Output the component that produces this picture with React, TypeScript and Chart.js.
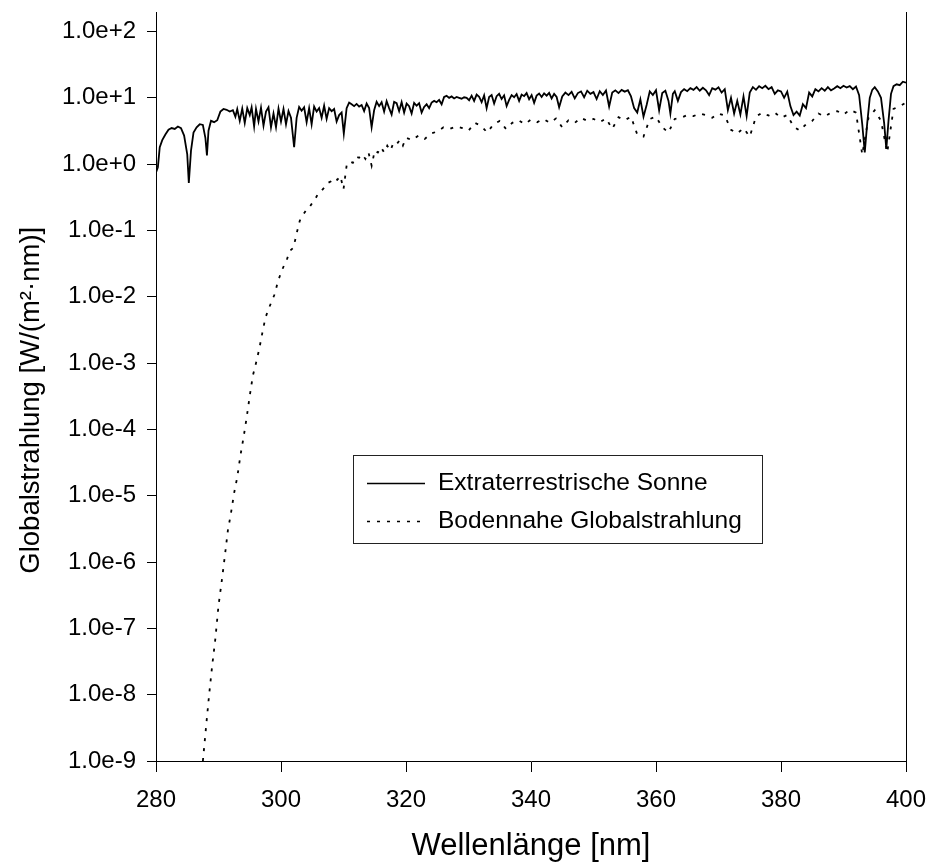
import React, { useEffect, useRef } from "react";
import { Chart, registerables } from "chart.js";

Chart.register(...registerables);

// Extraterrestrial solar spectrum (wavelength nm / irradiance)
const etrWavelength = [
  280.0, 280.3, 280.6, 281.0, 281.5, 282.0, 282.5, 283.0, 283.5, 284.0,
  284.5, 285.0, 285.25, 285.6, 286.0, 286.5, 287.0, 287.5, 287.9, 288.15,
  288.4, 288.8, 289.3, 289.8, 290.3, 290.8, 291.3, 291.8, 292.3, 292.7,
  293.0, 293.4, 293.8, 294.2, 294.6, 295.0, 295.3, 295.7, 296.0, 296.4,
  296.8, 297.2, 297.6, 298.0, 298.4, 298.8, 299.2, 299.6, 300.0, 300.4,
  300.8, 301.2, 301.6, 302.1, 302.5, 302.9, 303.3, 303.7, 304.1, 304.5,
  304.9, 305.3, 305.7, 306.1, 306.5, 306.9, 307.3, 307.7, 308.1, 308.5,
  308.9, 309.3, 309.7, 310.05, 310.5, 310.9, 311.3, 311.7, 312.1, 312.5,
  312.9, 313.3, 313.7, 314.1, 314.5, 314.9, 315.3, 315.7, 316.1, 316.5,
  316.9, 317.3, 317.7, 318.1, 318.5, 318.9, 319.3, 319.7, 320.1, 320.5,
  320.9, 321.3, 321.7, 322.1, 322.5, 322.9, 323.3, 323.7, 324.1, 324.5,
  324.9, 325.3, 325.7, 326.1, 326.5, 326.9, 327.3, 327.7, 328.1, 328.5,
  328.9, 329.3, 329.7, 330.1, 330.5, 330.9, 331.3, 331.7, 332.1, 332.5,
  332.9, 333.3, 333.7, 334.1, 334.5, 334.9, 335.3, 335.7, 336.1, 336.5,
  336.9, 337.3, 337.7, 338.1, 338.5, 338.9, 339.3, 339.7, 340.1, 340.5,
  340.9, 341.3, 341.7, 342.1, 342.5, 342.9, 343.3, 343.7, 344.1, 344.5,
  345.0, 345.5, 346.0, 346.5, 347.0, 347.5, 348.0, 348.5, 349.0, 349.5,
  350.0, 350.5, 351.0, 351.5, 352.0, 352.5, 353.0, 353.5, 354.0, 354.5,
  355.0, 355.5, 356.0, 356.5, 357.0, 357.5, 358.0, 358.5, 359.0, 359.5,
  360.0, 360.5, 361.0, 361.5, 362.0, 362.3, 362.7, 363.0, 363.5, 364.0,
  364.5, 365.0, 365.5, 366.0, 366.5, 367.0, 367.5, 368.0, 368.5, 369.0,
  369.5, 370.0, 370.5, 371.0, 371.5, 372.0, 372.5, 373.0, 373.5, 374.0,
  374.5, 375.0, 375.5, 376.0, 376.5, 377.0, 377.5, 378.0, 378.5, 379.0,
  379.5, 380.0, 380.5, 381.0, 381.5, 382.0, 382.5, 383.0, 383.5, 384.0,
  384.5, 385.0, 385.5, 386.0, 386.5, 387.0, 387.5, 388.0, 388.5, 389.0,
  389.5, 390.0, 390.5, 391.0, 391.5, 392.0, 392.5, 393.0, 393.4, 393.8,
  394.2, 394.6, 395.0, 395.5, 396.0, 396.5, 396.85, 397.2, 397.6, 398.0,
  398.5, 399.0, 399.5, 400.0,
];
const etrIrradiance = [
  0.75, 0.9, 1.8, 2.3, 2.8, 3.3, 3.5, 3.4, 3.7, 3.5,
  2.7, 1.4, 0.52, 1.6, 3.0, 3.6, 4.0, 3.9, 2.5, 1.35,
  3.2, 4.5, 4.3, 4.6, 6.2, 6.8, 6.6, 6.2, 6.5, 5.2,
  6.8, 4.5, 6.9, 4.2, 7.0, 5.5, 7.2, 3.7, 6.8, 4.4,
  7.1, 3.8, 6.2, 7.2, 3.6, 5.8, 3.6, 6.9, 4.4, 6.8,
  4.0, 6.3, 5.0, 1.8, 5.0, 7.3, 6.4, 7.2, 4.3, 7.0,
  4.0, 7.4, 6.2, 7.0, 5.0, 7.6, 4.8, 7.0, 6.3, 6.8,
  4.4, 5.5, 6.0, 2.9, 7.0, 8.5, 8.0, 7.5, 8.1, 7.4,
  7.8, 6.3, 8.2, 7.0, 3.6, 6.5, 8.7, 7.5, 8.6, 6.2,
  8.9, 7.0, 5.6, 8.7, 8.3, 6.3, 8.6, 6.0, 8.2, 7.5,
  5.8, 8.4, 7.6, 8.3, 6.0, 7.3, 8.0, 7.0, 8.5, 9.0,
  8.6, 9.3, 8.0, 10.3, 10.7, 10.0, 10.5, 9.8, 10.3, 10.0,
  9.7, 10.2, 10.0, 9.2, 10.8, 9.0, 11.2, 10.4, 8.6, 10.9,
  7.0, 10.3, 11.0, 8.2, 10.6, 11.5, 9.6, 10.9, 7.5, 9.3,
  11.0, 10.2, 11.4, 9.0, 11.2, 10.6, 11.8, 9.5, 11.0, 8.4,
  10.8, 11.6, 10.3, 11.7, 10.8, 11.9, 9.8, 11.5, 10.3, 7.2,
  10.5, 12.0, 11.0, 12.3, 9.8, 11.8, 12.5, 10.2, 12.8, 11.5,
  12.2, 9.6, 12.6, 11.0, 12.9, 7.4, 12.0, 13.0, 11.8, 13.2,
  12.4, 13.0, 10.5, 7.0, 6.0, 9.5, 5.2, 7.8, 12.5, 11.0,
  13.0, 6.5, 11.8, 12.8, 9.0, 5.8, 11.5, 12.6, 9.0, 12.2,
  13.5, 12.6, 14.0, 13.2, 14.5, 12.8, 14.2, 13.0, 11.0, 14.0,
  13.3, 14.4, 12.0, 13.5, 6.5, 10.0, 5.8, 9.0, 5.6, 10.5,
  5.3, 12.0, 14.5, 13.2, 15.0, 14.0, 15.2, 13.5, 14.5, 11.5,
  13.0, 12.5, 10.0, 12.4, 7.5, 5.5, 6.2, 5.4, 8.0, 7.0,
  12.0, 10.5, 13.5, 12.5, 14.0, 12.8, 14.5, 13.0, 13.8, 15.0,
  14.0, 15.2, 14.3, 15.0, 13.5, 14.8, 11.0, 4.0, 1.5, 4.2,
  10.0, 13.2, 14.5, 12.5, 10.0, 4.2, 1.7, 4.5, 11.5, 15.0,
  16.0, 15.5, 17.5, 17.0,
];

// Ground-level global irradiance
const globalWavelength = [
  287.5, 288.0, 288.5, 289.0, 289.5, 290.0, 290.5, 291.0, 291.5, 292.0,
  292.5, 293.0, 293.5, 294.0, 294.5, 295.0, 295.5, 296.0, 296.5, 297.0,
  297.5, 298.0, 298.5, 299.0, 299.5, 300.0, 300.5, 301.0, 301.5, 302.0,
  302.5, 303.0, 303.5, 304.0, 304.5, 305.0, 305.5, 306.0, 306.5, 307.0,
  307.5, 308.0, 308.5, 309.0, 309.5, 310.0, 310.5, 311.0, 311.5, 312.0,
  312.5, 313.0, 313.5, 314.0, 314.5, 315.0, 315.5, 316.0, 316.5, 317.0,
  317.5, 318.0, 318.5, 319.0, 319.5, 320.0, 321, 322, 323, 324,
  325, 326, 327, 328, 329, 330, 331, 332, 333, 334,
  335, 336, 337, 338, 339, 340, 341, 342, 343, 344,
  345, 346, 347, 348, 349, 350, 351, 352, 353, 354,
  355, 356, 357, 358, 359, 360, 361, 362, 363, 364,
  365, 366, 367, 368, 369, 370, 371, 372, 373, 374,
  375, 376, 377, 378, 379, 380, 381, 382, 383, 384,
  385, 386, 387, 388, 389, 390, 391, 392, 393, 394,
  395, 396, 397, 398, 399, 400,
];
const globalIrradiance = [
  1.0e-9, 3.2e-9, 1.0e-8, 2.8e-8, 7.0e-8, 2.2e-7, 5.0e-7, 1.2e-6, 3.0e-6, 5.5e-6,
  1.1e-5, 1.9e-5, 4.0e-5, 7.5e-5, 1.5e-4, 3.2e-4, 6.5e-4, 1.0e-3, 1.6e-3, 2.8e-3,
  4.8e-3, 6.5e-3, 8.5e-3, 1.1e-2, 1.7e-2, 2.3e-2, 3.0e-2, 3.8e-2, 5.0e-2, 5.5e-2,
  9.0e-2, 0.14, 0.17, 0.2, 0.22, 0.26, 0.3, 0.37, 0.4, 0.45,
  0.52, 0.55, 0.62, 0.58, 0.66, 0.42, 0.95, 1.1, 1.05, 1.3,
  1.25, 1.4, 1.2, 1.5, 0.95, 1.6, 1.5, 1.8, 1.5, 1.9,
  1.6, 2.1, 2.0, 2.3, 1.9, 2.5, 2.3, 2.7, 2.4, 2.9,
  3.1, 3.6, 3.4, 3.7, 3.5, 3.2, 4.2, 3.8, 3.0, 4.0,
  4.5, 3.4, 4.2, 4.6, 4.0, 4.7, 4.3, 4.8, 4.2, 4.9,
  3.6, 4.6, 4.2, 5.0, 4.5, 4.8, 4.3, 4.9, 3.4, 5.1,
  4.6, 5.2, 2.8, 2.6, 4.8, 5.2, 3.6, 3.0, 4.8, 5.0,
  5.5, 5.3, 5.8, 5.5, 5.0, 5.8, 5.4, 3.3, 2.9, 3.5,
  2.6, 5.2, 6.0, 5.4, 6.0, 5.0, 5.5, 3.7, 3.2, 4.0,
  4.5, 5.8, 5.2, 6.0, 6.3, 5.6, 6.6, 6.0, 1.4, 5.0,
  6.5, 4.5, 1.5, 6.8, 7.5, 8.5,
];

const seriesLabels = ["Extraterrestrische Sonne", "Bodennahe Globalstrahlung"];
const xTickValues = [280, 300, 320, 340, 360, 380, 400];
const yTickValues = [1e-9, 1e-8, 1e-7, 1e-6, 1e-5, 1e-4, 1e-3, 1e-2, 1e-1, 1e0, 1e1, 1e2];
const yTickLabels = [
  "1.0e-9", "1.0e-8", "1.0e-7", "1.0e-6", "1.0e-5", "1.0e-4",
  "1.0e-3", "1.0e-2", "1.0e-1", "1.0e+0", "1.0e+1", "1.0e+2",
];
const xTitle = "Wellenlänge [nm]";
const yTitle = "Globalstrahlung [W/(m²·nm)]";

const FONT = "'Liberation Sans', Arial, Helvetica, sans-serif";

const boxLegend = {
  id: "boxLegend",
  afterDraw(chart: any) {
    const ctx = chart.ctx as CanvasRenderingContext2D;
    ctx.save();
    ctx.strokeStyle = "#222";
    ctx.lineWidth = 1;
    ctx.setLineDash([]);
    ctx.strokeRect(353.5, 455.5, 409, 88);
    chart.data.datasets.forEach((ds: any, i: number) => {
      const y = 483.5 + i * 38;
      ctx.beginPath();
      ctx.setLineDash(ds.borderDash || []);
      ctx.lineWidth = 1.5;
      ctx.strokeStyle = "#000";
      ctx.moveTo(367, y);
      ctx.lineTo(425, y);
      ctx.stroke();
      ctx.setLineDash([]);
      ctx.fillStyle = "#000";
      ctx.font = `24.5px ${FONT}`;
      ctx.textBaseline = "middle";
      ctx.textAlign = "left";
      ctx.fillText(ds.label, 438, y);
    });
    ctx.restore();
  },
};

// y-axis title, centred on the decade range of the y axis
const yAxisTitle = {
  id: "yAxisTitle",
  afterDraw(chart: any) {
    const ctx = chart.ctx as CanvasRenderingContext2D;
    const ys = chart.scales.y;
    const cy = (ys.getPixelForValue(yTickValues[0]) + ys.getPixelForValue(yTickValues[yTickValues.length - 1])) / 2 + 4;
    ctx.save();
    ctx.translate(31, cy);
    ctx.rotate(-Math.PI / 2);
    ctx.fillStyle = "#000";
    ctx.font = `27.5px ${FONT}`;
    ctx.textAlign = "center";
    ctx.textBaseline = "middle";
    ctx.fillText(yTitle, 0, 0);
    ctx.restore();
  },
};

export default function App() {
  const ref = useRef<HTMLCanvasElement>(null);
  useEffect(() => {
    const tickFont = { family: FONT, size: 24 };
    const chart = new Chart(ref.current as HTMLCanvasElement, {
      type: "line",
      data: {
        datasets: [
          {
            label: seriesLabels[0],
            data: etrWavelength.map((x, i) => ({ x, y: etrIrradiance[i] })),
            borderColor: "#000",
            borderWidth: 1.8,
            pointRadius: 0,
            tension: 0,
            fill: false,
          },
          {
            label: seriesLabels[1],
            data: globalWavelength.map((x, i) => ({ x, y: globalIrradiance[i] })),
            borderColor: "#000",
            borderWidth: 1.8,
            borderDash: [3, 7],
            pointRadius: 0,
            tension: 0,
            fill: false,
          },
        ],
      },
      options: {
        responsive: false,
        animation: false,
        layout: { padding: { left: 0, right: 24, top: 12, bottom: 0 } },
        plugins: {
          legend: { display: false },
          tooltip: { enabled: false },
        },
        scales: {
          x: {
            type: "linear",
            min: 280,
            max: 400,
            afterBuildTicks: (s: any) => {
              s.ticks = xTickValues.map((v) => ({ value: v }));
            },
            ticks: {
              font: tickFont,
              color: "#000",
              padding: 14,
              maxRotation: 0,
              autoSkip: false,
            },
            grid: {
              drawOnChartArea: false,
              drawTicks: true,
              tickLength: 11,
              tickColor: "#000",
              lineWidth: 1,
            },
            border: { display: true, color: "#000", width: 1 },
            title: {
              display: true,
              text: xTitle,
              font: { family: FONT, size: 31, lineHeight: 1.1 },
              color: "#000",
              padding: { top: 0, bottom: 0 },
            },
            afterFit: (s: any) => {
              s.height = 103;
              s.paddingLeft = 0;
              s.paddingRight = 0;
            },
          },
          y: {
            type: "logarithmic",
            min: 1e-9,
            max: 197,
            afterBuildTicks: (s: any) => {
              s.ticks = yTickValues.map((v) => ({ value: v }));
            },
            ticks: {
              font: tickFont,
              color: "#000",
              padding: 11,
              autoSkip: false,
              callback: (_v: any, i: number) => yTickLabels[i],
            },
            grid: {
              drawOnChartArea: false,
              drawTicks: true,
              tickLength: 9,
              tickColor: "#000",
              lineWidth: 1,
            },
            border: { display: true, color: "#000", width: 1 },
            title: { display: false },
            afterFit: (s: any) => {
              s.width = 156;
              s.paddingTop = 0;
              s.paddingBottom = 0;
            },
          },
          y2: {
            type: "linear",
            position: "right",
            grid: { display: false, drawTicks: false },
            ticks: { display: false },
            border: { display: true, color: "#000", width: 1 },
            afterFit: (s: any) => {
              s.width = 0;
              s.paddingTop = 0;
              s.paddingBottom = 0;
            },
          },
        },
      } as any,
      plugins: [boxLegend, yAxisTitle],
    });
    return () => chart.destroy();
  }, []);
  return (
    <div style={{ position: "absolute", left: 0, top: 0, width: 930, height: 864, background: "#fff" }}>
      <canvas ref={ref} width={930} height={864} style={{ display: "block", width: 930, height: 864 }} />
    </div>
  );
}
